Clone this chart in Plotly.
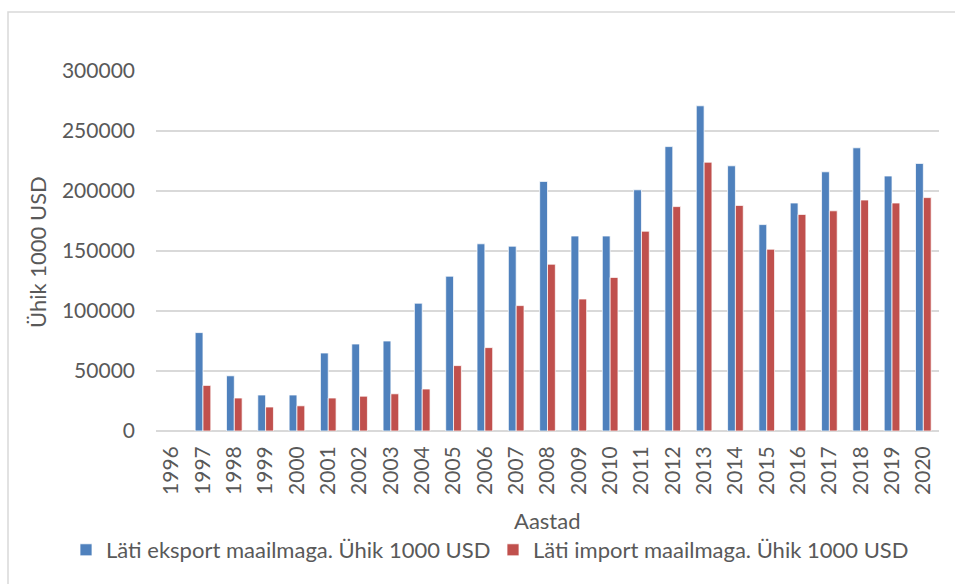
import plotly.graph_objects as go

years = [str(y) for y in range(1996, 2021)]
eksport = [None, 82000, 46000, 30000, 30000, 65000, 72500, 75000, 106500, 129000,
           156000, 154000, 208000, 162500, 162500, 201000, 237000, 271000, 221000,
           172000, 190000, 216000, 236000, 212500, 223000]
import_ = [None, 38000, 27500, 20000, 21000, 27500, 29000, 31000, 35000, 54500,
           69500, 104500, 139000, 110000, 128000, 166500, 187000, 224000, 188000,
           151500, 180500, 183500, 192500, 190000, 194500]
y_ticks = [0, 50000, 100000, 150000, 200000, 250000, 300000]

FONT = "Lato"
GRAY = "#595959"
GRID = "#D9D9D9"

W, H = 955, 584
L, R, T, B = 156, 16, 71, 153
pw, ph = W - L - R, H - T - B

def px_x(x):
    return (x - L) / pw

def px_y(y):
    return 1 - (y - T) / ph

fig = go.Figure()
fig.add_trace(go.Bar(x=years, y=eksport, name="Läti eksport maailmaga. Ühik 1000 USD",
                     marker=dict(color="#4F81BD", line=dict(color="white", width=0.75))))
fig.add_trace(go.Bar(x=years, y=import_, name="Läti import maailmaga. Ühik 1000 USD",
                     marker=dict(color="#C0504D", line=dict(color="white", width=0.75))))

fig.update_layout(
    width=W, height=H,
    margin=dict(l=L, r=R, t=T, b=B, pad=0, autoexpand=False),
    paper_bgcolor="white", plot_bgcolor="white",
    barmode="group", bargap=0.5, bargroupgap=0,
    font=dict(family=FONT, size=20, color=GRAY),
    showlegend=True,
    legend=dict(orientation="h", x=px_x(66), xanchor="left", y=px_y(550), yanchor="middle",
                font=dict(family=FONT, size=22, color=GRAY), entrywidth=382, entrywidthmode="pixels",
                itemwidth=30, bgcolor="rgba(0,0,0,0)"),
    xaxis=dict(type="category", tickangle=-90, showgrid=False, showline=False, ticks="",
               tickfont=dict(family=FONT, size=21, color=GRAY), ticklabelstandoff=10,
               automargin=False, title=None),
    yaxis=dict(range=[0, 300000], tickvals=y_ticks, tickformat="d", showgrid=True,
               gridcolor=GRID, gridwidth=1.5,
               zeroline=True, zerolinecolor=GRID, zerolinewidth=1.5, showline=False, ticks="",
               tickfont=dict(family=FONT, size=21, color=GRAY), ticklabelstandoff=20,
               automargin=False, title=None),
    shapes=[dict(type="rect", xref="paper", yref="paper",
                 x0=px_x(8), x1=px_x(1000), y0=px_y(700), y1=px_y(12),
                 line=dict(color=GRID, width=1.5), fillcolor="rgba(0,0,0,0)", layer="below")],
    annotations=[
        dict(text="Ühik 1000 USD", xref="paper", yref="paper", x=px_x(37), y=px_y(252),
             textangle=-90, showarrow=False, xanchor="center", yanchor="middle",
             font=dict(family=FONT, size=22, color=GRAY)),
        dict(text="Aastad", xref="paper", yref="paper", x=px_x(547), y=px_y(520),
             showarrow=False, xanchor="center", yanchor="middle",
             font=dict(family=FONT, size=22, color=GRAY)),
    ],
)

fig.write_html("out.html", config={"displayModeBar": False},
               post_script="document.body.style.margin='0';document.body.style.padding='0';")
